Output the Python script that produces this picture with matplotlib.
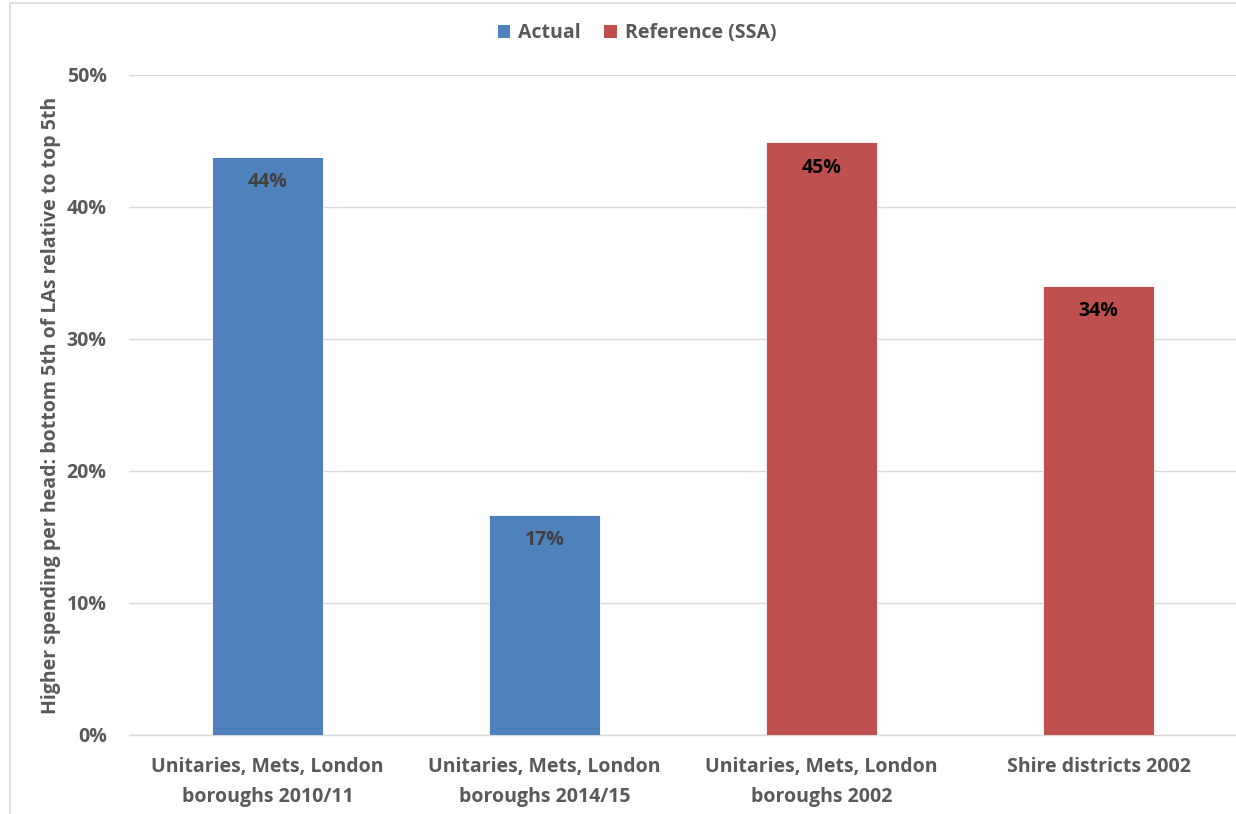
import matplotlib
matplotlib.use("Agg")
import matplotlib.pyplot as plt
from matplotlib.patches import Rectangle, Patch

plt.rcParams['font.family'] = ['Open Sans', 'DejaVu Sans']

categories = [
    "Unitaries, Mets, London\nboroughs 2010/11",
    "Unitaries, Mets, London\nboroughs 2014/15",
    "Unitaries, Mets, London\nboroughs 2002",
    "Shire districts 2002",
]
values = [0.438, 0.167, 0.449, 0.340]
series = ["Actual", "Actual", "Reference (SSA)", "Reference (SSA)"]
series_colors = {"Actual": "#4F81BD", "Reference (SSA)": "#C0504D"}
label_colors = {"Actual": "#404040", "Reference (SSA)": "#000000"}
yticks = [0.0, 0.1, 0.2, 0.3, 0.4, 0.5]
ylabel = "Higher spending per head: bottom 5th of LAs relative to top 5th"

gray = "#595959"
fs = 14

fig = plt.figure(figsize=(12.36, 8.14), dpi=100)
fig.patch.set_facecolor("white")
fig.patches.append(Rectangle((10 / 1236, -0.05), 1.2, 0.05 + (1 - 3 / 814),
                             transform=fig.transFigure, fill=False,
                             edgecolor="#D9D9D9", linewidth=1.2))

ax = fig.add_axes([129 / 1236, 79 / 814, 1108 / 1236, 660 / 814])
x = list(range(len(categories)))
colors = [series_colors[s] for s in series]
bars = ax.bar(x, values, width=0.4, color=colors, edgecolor="#FFFFFF",
              linewidth=0.6, zorder=3)

for xi, v, s in zip(x, values, series):
    ax.annotate(f"{v:.0%}", xy=(xi, v), xytext=(0, -11), textcoords="offset points",
                ha="center", va="top", fontsize=fs, fontweight="bold",
                color=label_colors[s], zorder=4)

ax.set_xlim(-0.5, len(categories) - 0.5)
ax.set_ylim(0, 0.5)
ax.set_yticks(yticks)
ax.set_yticklabels([f"{t:.0%}" for t in yticks])
ax.set_xticks(x)
ax.set_xticklabels(categories, linespacing=1.65)
ax.tick_params(axis="both", length=0, labelsize=fs, labelcolor=gray)
ax.tick_params(axis="y", pad=16)
ax.tick_params(axis="x", pad=16)
for lbl in ax.get_xticklabels() + ax.get_yticklabels():
    lbl.set_fontweight("bold")

ax.grid(axis="y", color="#D9D9D9", linewidth=1, zorder=0)
for side in ["top", "right", "left"]:
    ax.spines[side].set_visible(False)
ax.spines["bottom"].set_color("#D9D9D9")
ax.spines["bottom"].set_linewidth(1)

ax.set_ylabel(ylabel, fontsize=fs, fontweight="bold", color=gray, labelpad=4)

handles = [Patch(facecolor=series_colors[k], edgecolor="none") for k in series_colors]
fig.legend(handles, list(series_colors), loc="center", bbox_to_anchor=(637 / 1236, 1 - 33 / 814),
           ncol=2, frameon=False, handlelength=0.65, handleheight=0.65, handletextpad=0.4,
           columnspacing=1.2, prop={"size": fs, "weight": "bold"}, labelcolor=gray)

fig.savefig("out.png", dpi=100, facecolor="white")
